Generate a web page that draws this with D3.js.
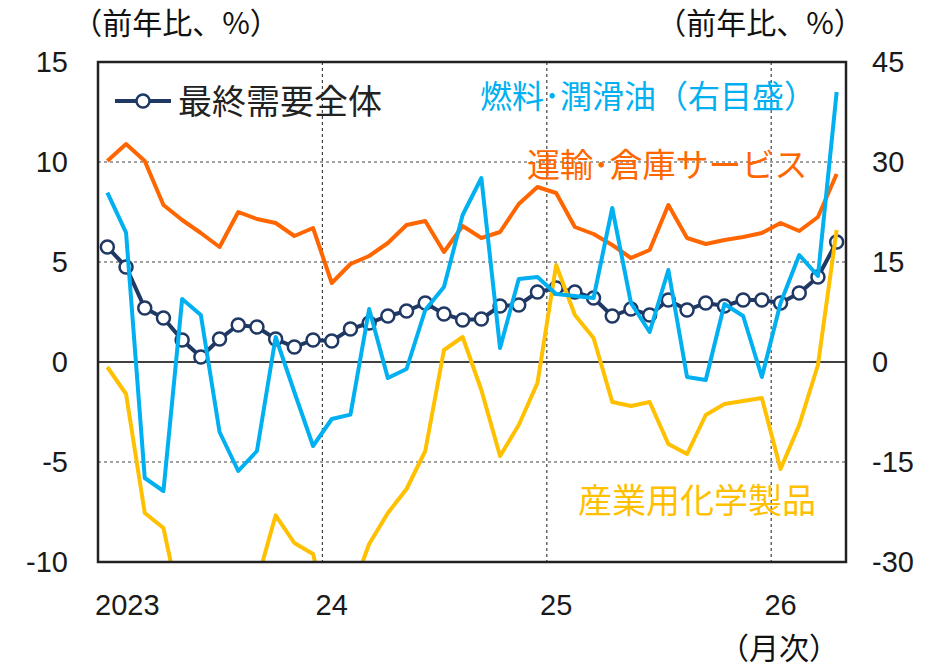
<!DOCTYPE html>
<html>
<head>
<meta charset="utf-8">
<script src="https://cdn.jsdelivr.net/npm/d3@7"></script>
<style>
  body { margin: 0; background: #fff; }
  svg { display: block; }
  .num { font-family: "Liberation Sans", Arial, sans-serif; font-size: 29px; fill: #1a1a1a; }
  .jp { font-family: "Noto Sans CJK JP", sans-serif; }
</style>
</head>
<body>
<div id="chart"></div>
<script>
// monthly, Jan 2023 .. Apr 2026
const months = d3.range(40);
const yearLabels = ['2023', '24', '25', '26'];
const yearIdx = [0, 12, 24, 36];

// left axis (%)
const finalDemand = [5.75, 4.75, 2.7, 2.2, 1.1, 0.25, 1.15, 1.85, 1.75, 1.15, 0.75, 1.1,
  1.05, 1.65, 1.95, 2.3, 2.55, 2.95, 2.4, 2.1, 2.15, 2.8, 2.85, 3.5,
  3.7, 3.5, 3.2, 2.3, 2.65, 2.35, 3.1, 2.6, 2.95, 2.8, 3.1, 3.1,
  2.95, 3.45, 4.25, 6.0];
const transport = [10.05, 10.9, 10.05, 7.85, 7.1, 6.45, 5.75, 7.5, 7.15, 6.95, 6.3, 6.7,
  3.95, 4.9, 5.3, 5.95, 6.85, 7.05, 5.5, 6.8, 6.2, 6.5, 7.9, 8.75,
  8.45, 6.75, 6.4, 5.85, 5.2, 5.6, 7.85, 6.2, 5.9, 6.1, 6.25, 6.45,
  6.95, 6.55, 7.25, 9.4];
// right axis (%)
const fuel = [25.4, 19.4, -17.4, -19.35, 9.45, 7.05, -10.5, -16.35, -13.35, 3.75, -4.5, -12.6,
  -8.55, -7.9, 7.95, -2.4, -1.05, 7.8, 11.25, 22.05, 27.6, 2.1, 12.45, 12.75,
  10.2, 9.9, 9.6, 23.1, 8.85, 4.5, 13.8, -2.25, -2.7, 8.7, 6.9, -2.25,
  8.85, 16.05, 12.9, 40.5];
const chemicals = [-0.75, -4.8, -22.65, -24.9, -38, -42, -40, -36, -33, -23, -27.15, -28.8,
  -40, -35, -27.3, -22.65, -19.05, -13.35, 1.8, 3.75, -4.2, -14.1, -9.45, -3.15,
  14.55, 7.05, 3.6, -6.0, -6.6, -6.0, -12.3, -13.8, -7.95, -6.3, -5.85, -5.4,
  -16.05, -9.45, -0.45, 19.8];

const leftTicks = [15, 10, 5, 0, -5, -10];
const rightTicks = [45, 30, 15, 0, -15, -30];

const W = 942, H = 668;
const m = { left: 98, right: 96, top: 62, bottom: 106 };

const svg = d3.select('#chart').append('svg')
    .attr('width', W)
    .attr('height', H);

const x = d3.scaleBand().domain(months).range([m.left, W - m.right]);
const cx = i => x(i) + x.bandwidth() / 2;
const yL = d3.scaleLinear().domain([-10, 15]).range([H - m.bottom, m.top]);
const yR = d3.scaleLinear().domain([-30, 45]).range([H - m.bottom, m.top]);

svg.append('defs').append('clipPath').attr('id', 'plot')
    .append('rect')
    .attr('x', m.left).attr('y', m.top)
    .attr('width', W - m.left - m.right)
    .attr('height', H - m.top - m.bottom);

// grid
const grid = svg.append('g');
grid.selectAll('line.h')
    .data(leftTicks.filter(d => d !== 0 && d !== 15 && d !== -10))
    .enter().append('line')
    .attr('x1', m.left).attr('x2', W - m.right)
    .attr('y1', d => yL(d)).attr('y2', d => yL(d))
    .style('stroke', '#444').style('stroke-width', 1.2)
    .style('stroke-dasharray', '3,3');
grid.selectAll('line.v')
    .data(yearIdx.slice(1))
    .enter().append('line')
    .attr('x1', d => x(d)).attr('x2', d => x(d))
    .attr('y1', m.top).attr('y2', H - m.bottom)
    .style('stroke', '#444').style('stroke-width', 1.2)
    .style('stroke-dasharray', '3,3');
grid.append('line')
    .attr('x1', m.left).attr('x2', W - m.right)
    .attr('y1', yL(0)).attr('y2', yL(0))
    .style('stroke', '#404040').style('stroke-width', 2);

// series
const plot = svg.append('g').attr('clip-path', 'url(#plot)');
const lineL = d3.line().x((d, i) => cx(i)).y(d => yL(d));
const lineR = d3.line().x((d, i) => cx(i)).y(d => yR(d));

plot.append('path').datum(finalDemand)
    .attr('d', lineL).style('fill', 'none')
    .style('stroke', '#1f3864').style('stroke-width', 4);
plot.selectAll('circle.fd')
    .data(finalDemand)
    .enter().append('circle')
    .attr('cx', (d, i) => cx(i)).attr('cy', d => yL(d))
    .attr('r', 6.5)
    .style('fill', '#fff').style('stroke', '#1f3864').style('stroke-width', 2.5);

plot.append('path').datum(transport)
    .attr('d', lineL).style('fill', 'none')
    .style('stroke', '#ff6600').style('stroke-width', 4)
    .style('stroke-linejoin', 'round');
plot.append('path').datum(chemicals)
    .attr('d', lineR).style('fill', 'none')
    .style('stroke', '#ffc000').style('stroke-width', 4)
    .style('stroke-linejoin', 'round');
plot.append('path').datum(fuel)
    .attr('d', lineR).style('fill', 'none')
    .style('stroke', '#00b0f0').style('stroke-width', 4)
    .style('stroke-linejoin', 'round');

// frame
svg.append('rect')
    .attr('x', m.left).attr('y', m.top)
    .attr('width', W - m.left - m.right)
    .attr('height', H - m.top - m.bottom)
    .style('fill', 'none').style('stroke', '#222').style('stroke-width', 2.5);

// axes labels
svg.append('g').selectAll('text')
    .data(leftTicks)
    .enter().append('text')
    .attr('class', 'num')
    .attr('x', m.left - 30).attr('y', d => yL(d) + 10)
    .attr('text-anchor', 'end')
    .text(d => d);
svg.append('g').selectAll('text')
    .data(rightTicks)
    .enter().append('text')
    .attr('class', 'num')
    .attr('x', W - m.right + 26).attr('y', d => yR(d) + 10)
    .attr('text-anchor', 'start')
    .text(d => d);
svg.append('g').selectAll('text')
    .data(yearLabels)
    .enter().append('text')
    .attr('class', 'num')
    .attr('x', (d, i) => cx(yearIdx[i]) + (i === 0 ? 20 : 0))
    .attr('y', H - m.bottom + 53)
    .attr('text-anchor', 'middle')
    .text(d => d);

const unit = '（前年比、%）';
svg.append('text').attr('class', 'jp')
    .attr('x', 176).attr('y', 34).attr('text-anchor', 'middle')
    .style('font-size', '30px').style('fill', '#111')
    .text(unit);
svg.append('text').attr('class', 'jp')
    .attr('x', 760).attr('y', 34).attr('text-anchor', 'middle')
    .style('font-size', '30px').style('fill', '#111')
    .text(unit);
svg.append('text').attr('class', 'jp')
    .attr('x', 779).attr('y', 659).attr('text-anchor', 'middle')
    .style('font-size', '30px').style('fill', '#111')
    .text('（月次）');

// legend
const lg = svg.append('g');
lg.append('line')
    .attr('x1', 115).attr('x2', 171).attr('y1', 101).attr('y2', 101)
    .style('stroke', '#1f3864').style('stroke-width', 4);
lg.append('circle')
    .attr('cx', 143).attr('cy', 101).attr('r', 6.5)
    .style('fill', '#fff').style('stroke', '#1f3864').style('stroke-width', 2.5);
lg.append('text').attr('class', 'jp')
    .attr('x', 178).attr('y', 114)
    .style('font-size', '34px').style('fill', '#222')
    .text('最終需要全体');

// series labels
svg.append('text').attr('class', 'jp')
    .attr('x', 480).attr('y', 108)
    .style('font-size', '32px').style('fill', '#00b0f0')
    .text('燃料･潤滑油（右目盛）');
svg.append('text').attr('class', 'jp')
    .attr('x', 527).attr('y', 177)
    .style('font-size', '33px').style('fill', '#ff6600')
    .text('運輸･倉庫サービス');
svg.append('text').attr('class', 'jp')
    .attr('x', 578).attr('y', 513)
    .style('font-size', '34px').style('fill', '#ffc000')
    .text('産業用化学製品');
</script>
</body>
</html>
